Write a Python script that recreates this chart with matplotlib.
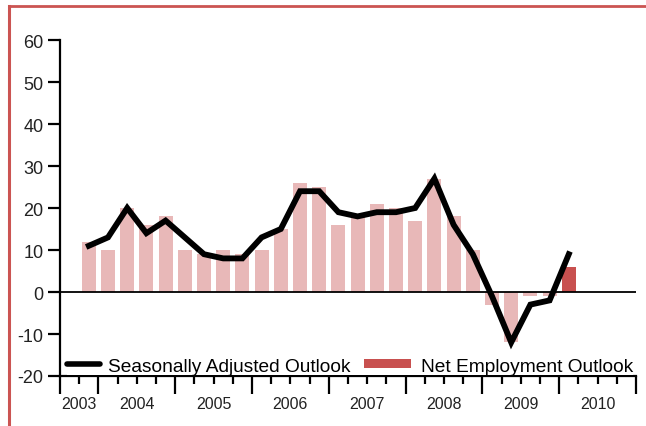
import matplotlib
matplotlib.use("Agg")
import matplotlib.pyplot as plt
from matplotlib.lines import Line2D
from matplotlib.patches import Patch, Rectangle
from matplotlib.ticker import FixedLocator, FuncFormatter

plt.rcParams['font.family'] = ['Liberation Sans', 'DejaVu Sans']
plt.rcParams['axes.unicode_minus'] = False

# ---- data (quarters from 2003 Q3 to 2010 Q4) ----
year_labels = ['2003', '2004', '2005', '2006', '2007', '2008', '2009', '2010']
quarters_per_year = [2, 4, 4, 4, 4, 4, 4, 4]

# Net employment outlook (unadjusted) bars, None = no data
net_outlook = [None, 12, 10, 20, 16, 18, 10, 9, 10, 9, 10, 15, 26, 25,
               16, 18, 21, 20, 17, 27, 18, 10, -3, -12, -1, -1, None, None, None, None]
# current quarter (highlighted)
current_net = [None] * 26 + [6, None, None, None]
# Seasonally adjusted outlook line
seasonal = [None, 11, 13, 20, 14, 17, 13, 9, 8, 8, 13, 15, 24, 24,
            19, 18, 19, 19, 20, 27, 16, 9, -1, -12, -3, -2, 9, None, None, None]

LIGHT = '#e8b8b8'
DARK = '#c8504f'
FRAME = '#cb5452'

fig = plt.figure(figsize=(6.46, 4.27), dpi=100)
ax = fig.add_axes([60/646, 50/427, 576/646, 336/427])

n = len(net_outlook)
xs = [i + 0.5 for i in range(n)]

bx = [x for x, v in zip(xs, net_outlook) if v is not None]
bv = [v for v in net_outlook if v is not None]
ax.bar(bx, bv, width=0.73, color=LIGHT, zorder=2)

cx = [x for x, v in zip(xs, current_net) if v is not None]
cv = [v for v in current_net if v is not None]
ax.bar(cx, cv, width=0.73, color=DARK, zorder=2)

lx = [x for x, v in zip(xs, seasonal) if v is not None]
lv = [v for v in seasonal if v is not None]
ax.plot(lx, lv, color='black', lw=4.2, solid_joinstyle='miter', zorder=4)

ax.axhline(0, color='black', lw=1.3, zorder=3)

ax.set_xlim(0, n)
ax.set_ylim(-20, 60)

# spines
for s in ['top', 'right']:
    ax.spines[s].set_visible(False)
ax.spines['left'].set_linewidth(1.6)
ax.spines['bottom'].set_linewidth(1.6)
ax.spines['left'].set_bounds(-20, 60)

# y ticks
ax.set_yticks(range(-20, 61, 10))
ax.tick_params(axis='y', direction='out', length=9, width=1.6,
               labelsize=13, labelcolor='#222222', pad=3)

# x ticks: major at year boundaries, minor at quarter boundaries with year labels
bounds = [0]
for q in quarters_per_year:
    bounds.append(bounds[-1] + q)
centers = {}
for lab, a, b in zip(year_labels, bounds[:-1], bounds[1:]):
    centers[(a + b) / 2] = lab
minor = [i for i in range(n + 1) if i not in bounds]
ax.xaxis.set_major_locator(FixedLocator(bounds))
ax.xaxis.set_major_formatter(FuncFormatter(lambda v, p: ''))
ax.xaxis.set_minor_locator(FixedLocator(minor))
ax.xaxis.set_minor_formatter(FuncFormatter(lambda v, p: centers.get(v, '')))
ax.tick_params(axis='x', which='major', direction='out', length=13, width=1.6)
ax.tick_params(axis='x', which='minor', direction='out', length=5.5, width=1.6,
               labelsize=11.5, labelcolor='#222222', pad=9)


# legend
class WidePatchHandler:
    def legend_artist(self, legend, orig_handle, fontsize, handlebox):
        x0, y0 = handlebox.xdescent, handlebox.ydescent
        w, h = handlebox.width, handlebox.height
        extra = 11.5
        ph = 6.5
        rect = Rectangle((-x0 - extra, -y0 + (h - ph) / 2), w + extra - 2, ph,
                         facecolor=orig_handle.get_facecolor(), edgecolor='none',
                         transform=handlebox.get_transform())
        handlebox.add_artist(rect)
        return rect


handles = [Line2D([0], [0], color='black', lw=4.0, solid_capstyle='round'),
           Patch(facecolor=DARK, edgecolor='none')]
leg = ax.legend(handles, ['Seasonally Adjusted Outlook', 'Net Employment Outlook'],
                loc='lower left', bbox_to_anchor=(0.012, 0.004), ncol=2,
                frameon=True, fontsize=13.8, handlelength=1.75,
                columnspacing=1.55, handletextpad=0.38, borderaxespad=0.0,
                fancybox=False, borderpad=0.0,
                handler_map={Patch: WidePatchHandler()})
leg.get_frame().set_facecolor('white')
leg.get_frame().set_edgecolor('none')
leg.get_frame().set_alpha(1)
leg.set_zorder(5)

# red frame (top and left)
fig.add_artist(Line2D([8.5/646, 1], [1 - 7/427, 1 - 7/427], color=FRAME, lw=2,
                      transform=fig.transFigure))
fig.add_artist(Line2D([8.5/646, 8.5/646], [0, 1 - 7/427], color=FRAME, lw=2.2,
                      transform=fig.transFigure))

fig.savefig('out.png', dpi=100)
